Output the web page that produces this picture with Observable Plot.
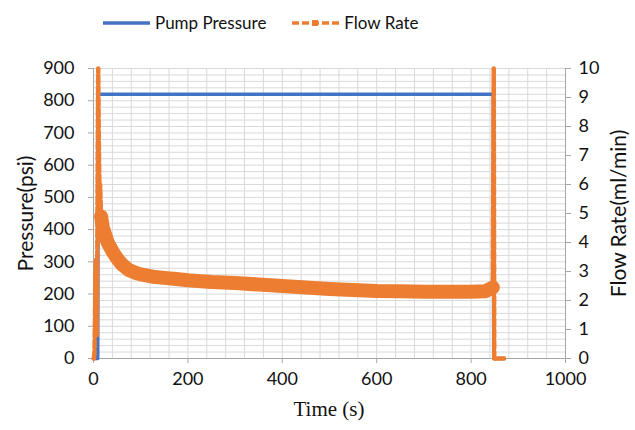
<!DOCTYPE html>
<html>
<head>
<meta charset="utf-8">
<script src="https://cdn.jsdelivr.net/npm/d3@7"></script>
<script src="https://cdn.jsdelivr.net/npm/@observablehq/plot@0.6"></script>
<style>
  html, body { margin: 0; padding: 0; background: #fff; }
  #wrap { position: relative; width: 635px; height: 430px; font-family: Lato, "Open Sans", sans-serif; }
  #legend { position: absolute; top: 12px; left: 103px; display: flex; gap: 26px; font-size: 17px; color: #111; }
  #legend .item { display: flex; align-items: center; gap: 5px; }
  #xtitle { position: absolute; top: 397px; left: 93px; width: 472px; text-align: center; font-family: "Liberation Serif", "Times New Roman", serif; font-size: 21px; color: #111; }
</style>
</head>
<body>
<div id="wrap">
  <div id="legend"></div>
  <div id="chart"></div>
  <div id="xtitle">Time (s)</div>
</div>
<script>
// ---- data ----
const seriesNames = ["Pump Pressure", "Flow Rate"];
const seriesColors = ["#4472C4", "#ED7D31"];

// Pump pressure (psi)
const pressTime = [0, 9, 10, 12, 100, 200, 300, 400, 500, 600, 700, 800, 847, 848, 870];
const pressure  = [0, 0, 821, 820, 820, 820, 820, 820, 820, 820, 820, 820, 820, 0, 0];

// Flow rate (ml/min)
const flowTime = [0, 1, 2, 3, 3.5, 4, 4.5, 5, 6, 7, 8, 9, 10, 11, 12, 13, 14, 16, 20, 25, 30, 40, 50, 60, 75, 90, 100, 125, 150, 175, 200, 250, 300, 350, 400, 450, 500, 550, 600, 650, 700, 750, 800, 830, 846, 848, 849, 850, 860, 870];
const flow     = [0, 0, 0.2, 1.2, 2.0, 3.0, 2.2, 3.4, 1.5, 0.8, 3.5, 7, 10, 8, 6.5, 5.5, 6.0, 4.9, 4.5, 4.25, 4.0, 3.7, 3.45, 3.25, 3.05, 2.95, 2.9, 2.82, 2.78, 2.74, 2.7, 2.64, 2.6, 2.55, 2.5, 2.45, 2.4, 2.36, 2.33, 2.32, 2.3, 2.3, 2.3, 2.32, 2.45, 10, 0, 0, 0, 0];

// axis ticks
const xTicks = [0, 200, 400, 600, 800, 1000];
const pressTicks = [0, 100, 200, 300, 400, 500, 600, 700, 800, 900];
const flowTicks = [0, 1, 2, 3, 4, 5, 6, 7, 8, 9, 10];

// ---- build ----
const pMax = 900, fMax = 10, ratio = pMax / fMax;
const pressData = pressTime.map((t, i) => ({t, v: pressure[i]}));
const flowData = flowTime.map((t, i) => ({t, v: flow[i] * ratio}));
const bandData = flowData.filter(d => d.t >= 16 && d.t <= 846);

const gray = "#a6a6a6", grid = "#d9d9d9";

const chart = Plot.plot({
  width: 635,
  height: 430,
  marginTop: 68,
  marginBottom: 72,
  marginLeft: 93,
  marginRight: 70,
  style: {fontFamily: "Lato, 'Open Sans', sans-serif", fontSize: "18px", color: "#111", background: "transparent"},
  x: {domain: [0, 1000]},
  y: {domain: [0, pMax]},
  marks: [
    Plot.gridX(d3.range(0, 1001, 40), {stroke: grid, strokeOpacity: 1}),
    Plot.gridY(d3.range(0, 901, 20), {stroke: grid, strokeOpacity: 1}),
    Plot.ruleX([0, 1000], {stroke: gray}),
    Plot.ruleY([0], {stroke: gray}),
    Plot.axisX({ticks: xTicks, tickFormat: d3.format("d"), tickSize: 5, tickPadding: 9, stroke: gray, fill: "#111", label: null}),
    Plot.axisY({ticks: pressTicks, tickFormat: d3.format("d"), tickSize: 5, tickPadding: 14, stroke: gray, fill: "#111", label: null}),
    Plot.axisY({ticks: [], label: "Pressure(psi)", labelAnchor: "center", labelArrow: "none", labelOffset: 75, fontSize: 21, fill: "#111"}),
    Plot.axisY({anchor: "right", ticks: flowTicks.map(f => f * ratio), tickFormat: v => Math.round(v / ratio),
      tickSize: 5, tickPadding: 8, stroke: gray, fill: "#111", label: null}),
    Plot.axisY({anchor: "right", ticks: [], label: "Flow Rate(ml/min)", labelAnchor: "center", labelArrow: "none", labelOffset: 60, fontSize: 21, fill: "#111"}),
    Plot.line(pressData, {x: "t", y: "v", stroke: seriesColors[0], strokeWidth: 3.5}),
    Plot.line(bandData, {x: "t", y: "v", stroke: seriesColors[1], strokeWidth: 14, strokeLinejoin: "round", strokeLinecap: "round"}),
    Plot.line(flowData, {x: "t", y: "v", stroke: seriesColors[1], strokeWidth: 4.5, strokeDasharray: "8,3"})
  ]
});
document.getElementById("chart").appendChild(chart);

// legend
const legend = document.getElementById("legend");
seriesNames.forEach((name, i) => {
  const item = document.createElement("div");
  item.className = "item";
  const dashed = i === 1;
  item.innerHTML = `<svg width="47" height="10"><line x1="0" y1="5" x2="47" y2="5" stroke="${seriesColors[i]}" stroke-width="3.5" ${dashed ? 'stroke-dasharray="7,3"' : ''}/>${dashed ? `<rect x="20" y="2" width="6" height="6" fill="${seriesColors[i]}"/>` : ''}</svg><span>${name}</span>`;
  legend.appendChild(item);
});
</script>
</body>
</html>
